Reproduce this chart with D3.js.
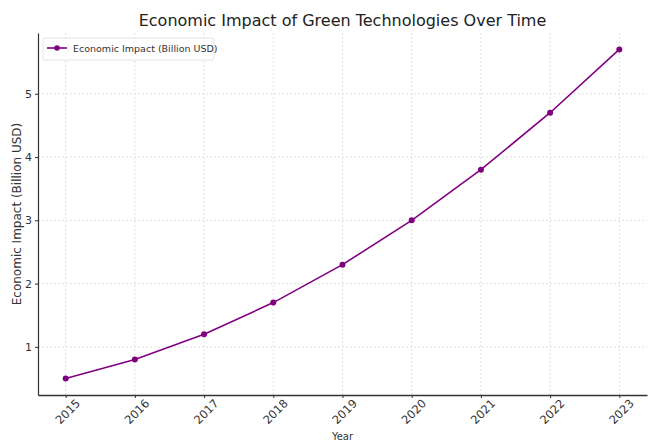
<!DOCTYPE html>
<html><head><meta charset="utf-8">
<script src="https://cdn.jsdelivr.net/npm/d3@7"></script>
<style>body{margin:0;background:#fff}svg{display:block}</style>
</head><body>
<svg id="c" width="653" height="442"></svg>
<script>
const years = [2015, 2016, 2017, 2018, 2019, 2020, 2021, 2022, 2023];
const impact = [0.5, 0.8, 1.2, 1.7, 2.3, 3.0, 3.8, 4.7, 5.7];
const yTicks = [1, 2, 3, 4, 5];
const title = "Economic Impact of Green Technologies Over Time";
const xLabel = "Year";
const yLabel = "Economic Impact (Billion USD)";
const seriesName = "Economic Impact (Billion USD)";
const color = "#800080";

const svg = d3.select("#c");
const L = 38, R = 647, T = 33, B = 395;
const font = "'DejaVu Sans', sans-serif";
const x = d3.scaleLinear().domain([2014.6, 2023.4]).range([L, R]);
const y = d3.scaleLinear().domain([0.24, 5.96]).range([B, T]);

// grid
const g = svg.append("g");
g.selectAll(".vg").data(years).enter().append("line")
  .attr("x1", d => x(d)).attr("x2", d => x(d)).attr("y1", T).attr("y2", B)
  .attr("stroke", "#d8d8d8").attr("stroke-width", 0.8).attr("stroke-dasharray", "2,2");
g.selectAll(".hg").data(yTicks).enter().append("line")
  .attr("x1", L).attr("x2", R).attr("y1", d => y(d)).attr("y2", d => y(d))
  .attr("stroke", "#d8d8d8").attr("stroke-width", 0.8).attr("stroke-dasharray", "2,2");

// axes
const xa = svg.append("g").attr("transform", `translate(0,${B})`)
  .call(d3.axisBottom(x).tickValues(years).tickFormat(d3.format("d")).tickSize(3).tickSizeOuter(0));
xa.select(".domain").attr("stroke", "#333").attr("stroke-width", 1.5);
xa.selectAll(".tick line").attr("stroke", "#333");
xa.selectAll(".tick text").attr("font-family", font).attr("font-size", 11.5).attr("fill", "#333")
  .attr("text-anchor", "end").attr("dx", "0.35em").attr("dy", "0.95em")
  .attr("transform", "rotate(-45)");

const ya = svg.append("g").attr("transform", `translate(${L},0)`)
  .call(d3.axisLeft(y).tickValues(yTicks).tickFormat(d3.format("d")).tickSize(3).tickSizeOuter(0));
ya.select(".domain").attr("stroke", "#333").attr("stroke-width", 1.2);
ya.selectAll(".tick line").attr("stroke", "#333");
ya.selectAll(".tick text").attr("font-family", font).attr("font-size", 11).attr("fill", "#333");

// line
const line = d3.line().x((d, i) => x(years[i])).y(d => y(d));
svg.append("path").datum(impact).attr("d", line)
  .attr("fill", "none").attr("stroke", color).attr("stroke-width", 1.6);
svg.selectAll(".pt").data(impact).enter().append("circle")
  .attr("cx", (d, i) => x(years[i])).attr("cy", d => y(d)).attr("r", 3).attr("fill", color);

// title & labels
svg.append("text").attr("x", (L + R) / 2).attr("y", 26).attr("text-anchor", "middle")
  .attr("font-family", font).attr("font-size", 16).attr("fill", "#222").text(title);
svg.append("text").attr("x", (L + R) / 2).attr("y", 440).attr("text-anchor", "middle")
  .attr("font-family", font).attr("font-size", 10).attr("fill", "#333").text(xLabel);
svg.append("text").attr("transform", `translate(21,${(T + B) / 2}) rotate(-90)`)
  .attr("text-anchor", "middle").attr("font-family", font).attr("font-size", 12)
  .attr("fill", "#333").text(yLabel);

// legend
const lg = svg.append("g").attr("transform", "translate(43,38)");
lg.append("rect").attr("width", 171).attr("height", 22).attr("fill", "#fff")
  .attr("stroke", "#ddd").attr("stroke-width", 0.8).attr("rx", 2);
lg.append("line").attr("x1", 4).attr("x2", 24).attr("y1", 10).attr("y2", 10)
  .attr("stroke", color).attr("stroke-width", 1.6);
lg.append("circle").attr("cx", 14).attr("cy", 10).attr("r", 2.8).attr("fill", color);
lg.append("text").attr("x", 30).attr("y", 14).attr("font-family", font).attr("font-size", 9.5)
  .attr("fill", "#333").text(seriesName);
</script>
</body></html>
